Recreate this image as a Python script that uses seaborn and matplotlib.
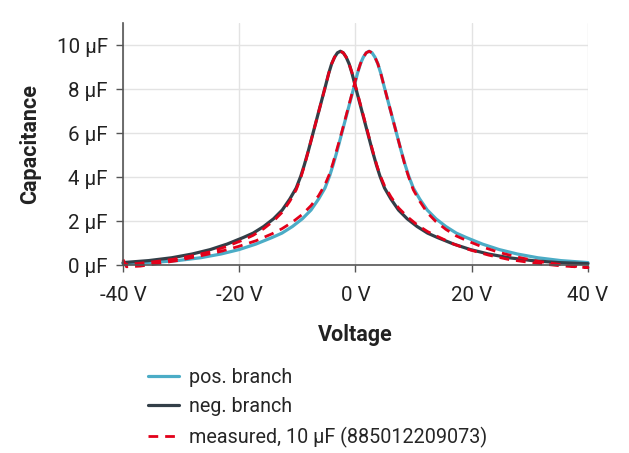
import numpy as np
import pandas as pd
import matplotlib
matplotlib.use("Agg")
import matplotlib.pyplot as plt
import seaborn as sns

# Capacitance vs bias voltage (V, uF)
pos_v = [-40, -35.15, -30.65, -26.65, -23.15, -20.05, -17.15, -14.35, -12.65, -10.85,
         -9.15, -7.65, -6.35, -5.25, -4.45, -3.85, -3.15, -2.35, -1.55, -0.85,
         -0.25, 0.35, 0.85, 1.35, 1.85, 2.35, 2.85, 3.35, 3.85, 4.35,
         4.95, 5.55, 6.25, 7.05, 7.85, 8.55, 9.15, 9.95, 11.05, 12.35,
         13.85, 15.55, 17.35, 19.05, 21.85, 24.75, 27.85, 31.35, 35.35, 40]
pos_c = [0.06, 0.11, 0.2, 0.33, 0.5, 0.7, 0.95, 1.25, 1.45, 1.75,
         2.1, 2.5, 3.0, 3.5, 4.05, 4.55, 5.2, 6.0, 6.8, 7.5,
         8.1, 8.72, 9.15, 9.45, 9.65, 9.72, 9.65, 9.45, 9.15, 8.72,
         8.1, 7.5, 6.8, 6.0, 5.2, 4.55, 4.05, 3.5, 3.0, 2.5,
         2.1, 1.75, 1.45, 1.25, 0.95, 0.7, 0.5, 0.33, 0.2, 0.11]

neg_v = [-40, -35.6, -31.6, -28.1, -25.0, -22.1, -19.3, -17.6, -15.8, -14.1,
         -12.6, -11.3, -10.2, -9.4, -8.8, -8.1, -7.3, -6.5, -5.8, -5.2,
         -4.6, -4.1, -3.6, -3.1, -2.6, -2.1, -1.6, -1.1, -0.6, 0.0,
         0.6, 1.3, 2.1, 2.9, 3.6, 4.2, 5.0, 6.1, 7.4, 8.9,
         10.6, 12.4, 14.1, 16.9, 19.8, 22.9, 26.4, 30.4, 34.9, 40]
neg_c = [0.11, 0.2, 0.33, 0.5, 0.7, 0.95, 1.25, 1.45, 1.75, 2.1,
         2.5, 3.0, 3.5, 4.05, 4.55, 5.2, 6.0, 6.8, 7.5, 8.1,
         8.72, 9.15, 9.45, 9.65, 9.72, 9.65, 9.45, 9.15, 8.72, 8.1,
         7.5, 6.8, 6.0, 5.2, 4.55, 4.05, 3.5, 3.0, 2.5, 2.1,
         1.75, 1.45, 1.25, 0.95, 0.7, 0.5, 0.33, 0.2, 0.11, 0.06]

# measured loop: up-sweep -40 -> 40, then down-sweep 40 -> -40
meas_v = [-40, -39.4, -37, -35.15, -30.65, -26.65, -23.15, -20.05, -17.15, -14.35,
          -12.65, -10.85, -9.15, -7.65, -6.35, -5.25, -4.45, -3.85, -3.15, -2.35,
          -1.55, -0.85, -0.25, 0.35, 0.85, 1.35, 1.85, 2.35, 2.85, 3.35,
          3.85, 4.35, 4.95, 5.55, 6.25, 7.05, 7.85, 8.55, 9.15, 9.95,
          11.05, 12.35, 13.85, 15.55, 17.35, 19.05, 21.85, 24.75, 27.85, 31.35,
          35.35, 40,
          35, 30.4, 26.4, 22.9, 19.8, 16.9, 14.1, 12.4, 10.6, 8.9,
          7.4, 6.1, 5.0, 4.2, 3.6, 2.9, 2.1, 1.3, 0.6, 0.0,
          -0.6, -1.1, -1.6, -2.1, -2.6, -3.1, -3.6, -4.1, -4.6, -5.2,
          -5.8, -6.5, -7.3, -8.1, -8.8, -9.4, -10.2, -11.3, -12.6, -14.1,
          -15.8, -17.6, -19.3, -22.1, -25.0, -28.1, -31.6, -35.6, -39, -40]
meas_c = [0.25, -0.08, -0.05, 0.02, 0.2, 0.42, 0.62, 0.85, 1.1, 1.42,
          1.65, 1.95, 2.3, 2.7, 3.15, 3.65, 4.15, 4.65, 5.3, 6.05,
          6.85, 7.55, 8.15, 8.75, 9.15, 9.45, 9.65, 9.72, 9.65, 9.45,
          9.15, 8.72, 8.1, 7.5, 6.8, 6.0, 5.2, 4.5, 4.0, 3.42,
          2.9, 2.38, 1.97, 1.62, 1.32, 1.12, 0.82, 0.57, 0.36, 0.17,
          0.02, -0.12,
          -0.03, 0.1, 0.25, 0.45, 0.68, 0.95, 1.3, 1.52, 1.83, 2.2,
          2.6, 3.1, 3.6, 4.1, 4.6, 5.25, 6.05, 6.85, 7.55, 8.15,
          8.75, 9.15, 9.45, 9.65, 9.72, 9.65, 9.45, 9.15, 8.72, 8.1,
          7.5, 6.8, 6.0, 5.2, 4.5, 3.98, 3.42, 2.9, 2.4, 2.0,
          1.65, 1.35, 1.14, 0.85, 0.6, 0.42, 0.25, 0.12, 0.03, 0.05]

x_ticks = [-40, -20, 0, 20, 40]
y_ticks = [0, 2, 4, 6, 8, 10]

sns.set_theme(style="white")
plt.rcParams["font.family"] = ["Roboto", "DejaVu Sans"]

fig = plt.figure(figsize=(6.29, 4.53), dpi=100)
ax = fig.add_axes([0.1955, 0.415, 0.7393, 0.534])

sns.lineplot(x=pos_v, y=pos_c, ax=ax, color="#4bacc6", linewidth=2.3,
             sort=False, estimator=None, label="pos. branch", clip_on=False)
sns.lineplot(x=neg_v, y=neg_c, ax=ax, color="#333f48", linewidth=2.3,
             sort=False, estimator=None, label="neg. branch", clip_on=False)
sns.lineplot(x=meas_v, y=meas_c, ax=ax, color="#e2001a", linewidth=2.0,
             sort=False, estimator=None, linestyle=(0, (3.5, 2.5)),
             label="measured, 10 µF (885012209073)", clip_on=False)

ax.set_xlim(-40, 40)
ax.set_ylim(0, 11)
ax.set_xticks(x_ticks)
ax.set_yticks(y_ticks)
ax.set_xticklabels([f"{v} V" for v in x_ticks])
ax.set_yticklabels([f"{v} µF" for v in y_ticks])
ax.grid(True, color="#e3e3e3", linewidth=1)
ax.set_axisbelow(True)
for s in ["top", "right"]:
    ax.spines[s].set_visible(False)
for s in ["left", "bottom"]:
    ax.spines[s].set_color("#555555")
    ax.spines[s].set_linewidth(1.2)
ax.tick_params(axis="both", direction="out", length=5, width=1, color="#555555",
               labelsize=14.8, labelcolor="#222222")
ax.tick_params(axis="x", pad=10)
ax.tick_params(axis="y", pad=6)
ax.tick_params(axis="both", bottom=True, left=True)

ax.set_xlabel("Voltage", fontsize=15.5, fontweight="bold", color="#222222", labelpad=14)
ax.set_ylabel("Capacitance", fontsize=15.5, fontweight="bold", color="#222222", labelpad=11)

handles, labels = ax.get_legend_handles_labels()
ax.legend_.remove()
fig.legend(handles, labels, loc="upper left", bbox_to_anchor=(0.2234, 0.205),
           frameon=False, fontsize=14.2, handlelength=1.55, handletextpad=0.5,
           labelspacing=0.52, borderaxespad=0)

fig.savefig("out.png", dpi=100)
